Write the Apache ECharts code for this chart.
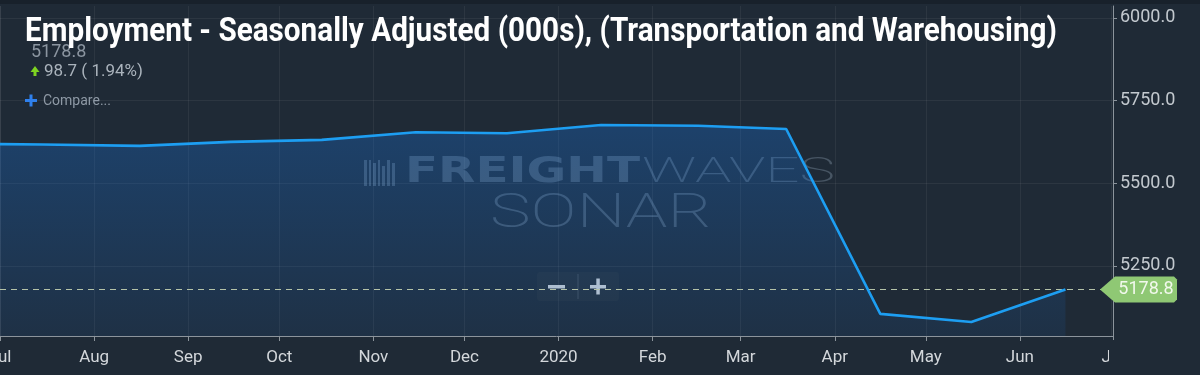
<!DOCTYPE html>
<html><head><meta charset="utf-8">
<script src="https://cdn.jsdelivr.net/npm/echarts@6/dist/echarts.min.js"></script>
<style>html,body{margin:0;padding:0;background:#1f2a36;}#c{width:1200px;height:375px;}</style>
</head><body><div id="c"></div>
<script>
// ---- data ----
const dates = ['2019-06-15','2019-07-15','2019-08-16','2019-09-15','2019-10-15','2019-11-15','2019-12-15','2020-01-15','2020-02-16','2020-03-16','2020-04-16','2020-05-16','2020-06-16'];
const values = [5620, 5617, 5613, 5625, 5631, 5654, 5651, 5676, 5674, 5664, 5105, 5080.1, 5178.8];
const yTicks = [5250, 5500, 5750, 6000];
const monthNames = ['Jan','Feb','Mar','Apr','May','Jun','Jul','Aug','Sep','Oct','Nov','Dec'];
const titleText = 'Employment - Seasonally Adjusted (000s), (Transportation and Warehousing)';
const lastValueText = '5178.8';
const changeText = '98.7 ( 1.94%)';
const compareText = 'Compare...';
const wm1 = 'FREIGHT', wm2 = 'WAVES', wm3 = 'SONAR';
const xMin = '2019-07-01', xMax = '2020-07-01 16:00';
const yMin = 5038, yMax = 6036;

const BG = '#1f2a36';
const gridL = 0, gridR = 87, gridT = 6, gridB = 39;

function tw(font, s){ const c=document.createElement('canvas').getContext('2d'); c.font=font; return c.measureText(s).width; }

const chart = echarts.init(document.getElementById('c'), null, {renderer:'canvas'});
const seriesData = dates.map((d,i)=>[d, values[i]]);

const titleFont = 'bold 34px Roboto';
const titleScale = (1057-25)/tw(titleFont, titleText);
const f1 = 'bold 36px "DejaVu Sans"';
const s1 = (640-405)/tw(f1, wm1);
const f2 = '200 35px Roboto';
const s2 = (835-642)/tw(f2, wm2);
const f3 = '200 48px Roboto';
const s3 = (712-490)/tw(f3, wm3);
const wmFill = 'rgba(165,185,205,0.3)';

const option = {
  backgroundColor: BG,
  animation: false,
  grid: {left: gridL, right: gridR, top: gridT, bottom: gridB, containLabel: false, outerBoundsMode: 'none'},
  xAxis: {
    type: 'time', min: xMin, max: xMax,
    splitNumber: 12,
    minInterval: 28*86400000, maxInterval: 31*86400000,
    axisLine: {show: true, lineStyle: {color: '#8c949c', width: 1}},
    axisTick: {show: true, length: 5, lineStyle: {color: '#8c949c'}},
    splitLine: {show: true, lineStyle: {color: 'rgba(255,255,255,0.06)', width: 1}},
    axisLabel: {
      color: '#d3d7db', fontSize: 17, fontFamily: 'Roboto', margin: 13,
      hideOverlap: false, showMinLabel: true, showMaxLabel: true,
      formatter: function(v){ const d=new Date(v); return d.getMonth()===0 ? String(d.getFullYear()) : monthNames[d.getMonth()]; }
    }
  },
  yAxis: {
    type: 'value', position: 'right', min: yMin, max: yMax, scale: true,
    axisLine: {show: true, lineStyle: {color: '#8c949c', width: 1}},
    axisTick: {show: true, length: 4, customValues: yTicks, lineStyle: {color: '#8c949c'}},
    splitLine: {show: true, lineStyle: {color: 'rgba(255,255,255,0.06)', width: 1}},
    axisLabel: {customValues: yTicks, color: '#c3c9cf', fontSize: 18, fontFamily: 'Roboto', margin: 7,
      padding: [4,0,0,0],
      formatter: v => Number(v).toFixed(1)}
  },
  series: [
    {
      type: 'line', data: seriesData, showSymbol: false, z: 1,
      lineStyle: {width: 0, opacity: 0},
      areaStyle: {color: new echarts.graphic.LinearGradient(0,0,0,1,[
        {offset:0, color:'rgba(25,112,212,0.48)'},
        {offset:1, color:'rgba(25,112,212,0.14)'}])}
    },
    {
      type: 'line', data: seriesData, showSymbol: false, z: 5,
      lineStyle: {color: '#1d9ef2', width: 2.6},
      markLine: {
        silent: true, symbol: ['none','none'],
        lineStyle: {color: '#b5c3a8', type: [6,5], width: 1.2},
        label: {show: false},
        data: [{yAxis: values[values.length-1]}]
      }
    }
  ],
  graphic: []
};
chart.setOption(option);

const p = chart.convertToPixel({gridIndex:0}, [dates[dates.length-1], values[values.length-1]]);
const gy = p[1];
const axX = 1200 - gridR;

const g = [
  {type:'rect', shape:{x:0,y:0,width:1200,height:4}, style:{fill:'#18212b'}, z:20},
  // watermark
  {type:'group', z:3, children:[
    {type:'rect', shape:{x:364,y:160,width:3,height:26}, style:{fill:wmFill}},
    {type:'rect', shape:{x:369,y:160,width:2,height:26}, style:{fill:wmFill}},
    {type:'rect', shape:{x:373,y:163,width:3,height:23}, style:{fill:wmFill}},
    {type:'rect', shape:{x:378,y:160,width:2,height:26}, style:{fill:wmFill}},
    {type:'rect', shape:{x:382,y:166,width:3,height:20}, style:{fill:wmFill}},
    {type:'rect', shape:{x:387,y:160,width:3,height:26}, style:{fill:wmFill}},
    {type:'rect', shape:{x:392,y:163,width:3,height:23}, style:{fill:wmFill}},
    {type:'text', x:405, y:173, scaleX:s1, style:{text:wm1, font:f1, fill:wmFill, verticalAlign:'middle'}},
    {type:'text', x:642, y:173, scaleX:s2, style:{text:wm2, font:f2, fill:wmFill, verticalAlign:'middle'}},
    {type:'text', x:490, y:215, scaleX:s3, style:{text:wm3, font:f3, fill:wmFill, verticalAlign:'middle'}}
  ]},
  // stats
  {type:'text', x:31, y:52, z:10, style:{text:lastValueText, font:'18px Roboto', fill:'#8b95a0', verticalAlign:'middle'}},
  {type:'polygon', z:10, shape:{points:[[30.5,72],[35,66],[39.5,72]]}, style:{fill:'#7ed321'}},
  {type:'rect', z:10, shape:{x:33.5,y:71,width:3,height:5}, style:{fill:'#7ed321'}},
  {type:'text', x:44, y:72, z:10, style:{text:changeText, font:'17px Roboto', fill:'#aab3bc', verticalAlign:'middle'}},
  {type:'rect', z:10, shape:{x:25,y:99,width:12,height:3}, style:{fill:'#2f80ed'}},
  {type:'rect', z:10, shape:{x:29.5,y:94.5,width:3,height:12}, style:{fill:'#2f80ed'}},
  {type:'text', x:43, y:101, z:10, style:{text:compareText, font:'14px Roboto', fill:'#8e99a5', verticalAlign:'middle'}},
  // title
  {type:'text', x:25, y:32, z:15, scaleX:titleScale, style:{text:titleText, font:titleFont, fill:'#ffffff', verticalAlign:'middle'}},
  // zoom buttons
  {type:'group', z:12, children:[
    {type:'rect', shape:{x:537,y:272,width:82,height:29,r:3}, style:{fill:'rgba(38,48,58,0.92)'}},
    {type:'rect', shape:{x:577.5,y:274,width:1,height:25}, style:{fill:'rgba(90,100,110,0.6)'}},
    {type:'rect', shape:{x:548,y:285,width:17,height:3.5}, style:{fill:'#c9cdd1'}},
    {type:'rect', shape:{x:590,y:285,width:16,height:3.5}, style:{fill:'#c9cdd1'}},
    {type:'rect', shape:{x:596.3,y:278.5,width:3.5,height:16}, style:{fill:'#c9cdd1'}}
  ]},
  // clip right Jul label
  {type:'rect', z:8, shape:{x:axX-4,y:340,width:200,height:40}, style:{fill:BG}},
  // last value tag
  {type:'polygon', z:12, shape:{points:[[1100,gy],[1115,gy-13],[1174,gy-13],[1177,gy-10],[1177,gy+10],[1174,gy+13],[1115,gy+13]]}, style:{fill:'#8fc874'}},
  {type:'text', x:1146, y:gy, z:13, style:{text:lastValueText, font:'18px Roboto', fill:'#f1f8ec', align:'center', verticalAlign:'middle'}}
];
chart.setOption({graphic: g});
</script>
</body></html>
